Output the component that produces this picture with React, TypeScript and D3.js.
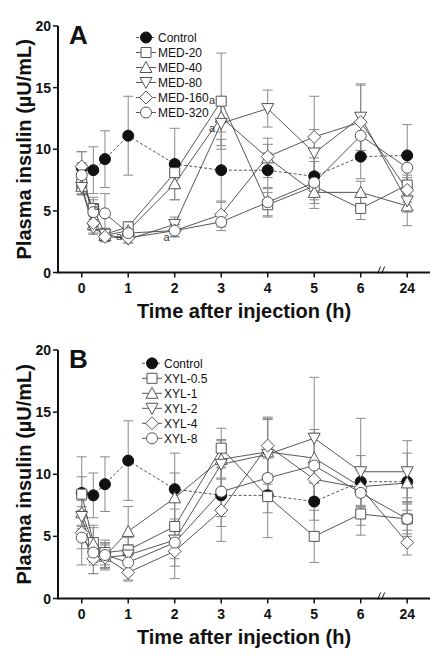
import React from "react";
import * as d3 from "d3";

const times = [0, 0.25, 0.5, 1, 2, 3, 4, 5, 6, 24];
const tickTimes = [0, 1, 2, 3, 4, 5, 6, 24];
const yTicks = [0, 5, 10, 15, 20];

// Panel A
const namesA = ["Control", "MED-20", "MED-40", "MED-80", "MED-160", "MED-320"];
const controlA = [8.5, 8.3, 9.2, 11.1, 8.8, 8.3, 8.3, 7.8, 9.4, 9.5];
const controlAErr = [1.3, 1.9, 2.3, 3.2, 2.9, 2.5, 1.4, 1.5, 1.8, 2.5];
const med20 = [7.2, 5.2, 3.1, 3.7, 8.1, 13.9, 5.5, 7.0, 5.2, 7.1];
const med20Err = [0.8, 0.9, 0.5, 0.4, 1.0, 3.9, 1.0, 1.1, 0.9, 0.8];
const med40 = [7.0, 3.9, 3.0, 3.4, 7.2, 12.6, 9.3, 6.5, 6.5, 5.4];
const med40Err = [0.7, 0.7, 0.5, 0.5, 1.3, 1.2, 1.6, 1.3, 0.9, 1.6];
const med80 = [6.9, 3.6, 3.1, 2.7, 3.9, 12.1, 13.3, 9.7, 12.6, 5.8];
const med80Err = [0.6, 0.5, 0.4, 0.3, 0.6, 1.8, 1.5, 1.9, 2.7, 0.9];
const med160 = [8.6, 4.0, 2.9, 2.8, 3.4, 4.7, 9.4, 11.0, 12.2, 6.7];
const med160Err = [1.2, 0.6, 0.4, 0.4, 0.5, 1.0, 1.0, 3.3, 3.0, 1.0];
const med320 = [7.9, 4.9, 4.8, 3.2, 3.4, 4.1, 5.7, 7.3, 11.1, 8.5];
const med320Err = [1.0, 1.0, 1.6, 0.5, 0.5, 0.7, 1.1, 1.7, 1.2, 1.1];

// Panel B
const namesB = ["Control", "XYL-0.5", "XYL-1", "XYL-2", "XYL-4", "XYL-8"];
const controlB = [8.5, 8.3, 9.2, 11.1, 8.8, 8.3, 8.3, 7.8, 9.4, 9.4];
const controlBErr = [2.9, 1.8, 2.2, 3.2, 2.9, 2.5, 1.4, 1.5, 2.1, 2.3];
const xyl05 = [8.4, 4.5, 3.7, 3.9, 5.8, 12.1, 8.2, 5.0, 6.8, 6.4];
const xyl05Err = [1.4, 1.2, 1.0, 1.0, 1.4, 1.6, 3.3, 2.1, 1.7, 1.2];
const xyl1 = [6.9, 4.4, 3.4, 5.4, 8.1, 11.2, 11.8, 11.3, 9.0, 9.3];
const xyl1Err = [1.0, 1.5, 1.0, 2.0, 2.0, 1.5, 2.6, 2.0, 1.5, 1.2];
const xyl2 = [6.6, 3.4, 3.3, 3.5, 4.7, 10.8, 11.6, 12.9, 10.2, 10.2];
const xyl2Err = [0.8, 1.4, 0.8, 0.8, 1.5, 2.0, 2.9, 4.9, 4.3, 2.5];
const xyl4 = [5.3, 3.2, 3.3, 2.1, 3.8, 7.1, 12.3, 9.6, 8.9, 4.5];
const xyl4Err = [1.3, 1.2, 1.0, 0.7, 2.2, 2.5, 2.3, 1.5, 1.5, 1.0];
const xyl8 = [4.9, 3.7, 3.5, 2.9, 4.5, 8.6, 9.7, 10.7, 8.5, 6.4];
const xyl8Err = [2.2, 1.0, 1.0, 1.4, 1.9, 2.0, 1.6, 2.9, 1.8, 1.4];

const shapes = ["filled", "square", "up", "down", "diamond", "circle"];

// significance marks: series index, time index, label offset
const annotA = [
  { s: 1, i: 5, dx: -6, dy: 3 },
  { s: 2, i: 5, dx: -6, dy: 15 },
  { s: 5, i: 2, dx: -5, dy: -3 },
  { s: 1, i: 3, dx: -6, dy: 13 },
  { s: 5, i: 4, dx: -5, dy: 10 },
];

const FONT = "'Liberation Sans', Arial, Helvetica, sans-serif";

const pos = (t: number) => (t === 24 ? 7 : t);

function markerPath(shape: string): string {
  switch (shape) {
    case "square":
      return "M-5,-5H5V5H-5Z";
    case "up":
      return "M0,-6L6,5H-6Z";
    case "down":
      return "M0,6L6,-5H-6Z";
    case "diamond":
      return "M0,-6.5L6.5,0L0,6.5L-6.5,0Z";
    default:
      return d3.symbol(d3.symbolCircle, 95)() as string;
  }
}

function Marker({ shape, x, y }: { shape: string; x: number; y: number }) {
  const filled = shape === "filled";
  return (
    <path
      d={markerPath(shape)}
      transform={`translate(${x},${y})`}
      fill={filled ? "#111" : "#fff"}
      stroke={filled ? "#111" : "#555"}
      strokeWidth={1}
    />
  );
}

function Panel({
  label,
  top,
  bottom,
  names,
  means,
  errs,
  annots,
  legendX,
  legendY,
}: {
  label: string;
  top: number;
  bottom: number;
  names: string[];
  means: number[][];
  errs: number[][];
  annots: { s: number; i: number; dx: number; dy: number }[];
  legendX: number;
  legendY: number;
}) {
  const x = d3.scaleLinear().domain([-0.51, 7.49]).range([58, 430]);
  const y = d3.scaleLinear().domain([0, 20]).range([bottom, top]);
  const line = d3
    .line<number>()
    .x((_, i) => x(pos(times[i])))
    .y((d) => y(d));
  const midY = (top + bottom) / 2;
  const breakX = x(6.45);

  return (
    <g fontFamily={FONT}>
      {/* error bars */}
      {means.map((m, s) => (
        <g key={"e" + s} stroke="#8a8a8a" strokeWidth={1}>
          {m.map((v, i) => {
            const cx = x(pos(times[i]));
            const lo = y(v - errs[s][i]);
            const hi = y(v + errs[s][i]);
            return (
              <g key={i}>
                <line x1={cx} x2={cx} y1={lo} y2={hi} />
                <line x1={cx - 5} x2={cx + 5} y1={lo} y2={lo} />
                <line x1={cx - 5} x2={cx + 5} y1={hi} y2={hi} />
              </g>
            );
          })}
        </g>
      ))}
      {/* lines */}
      {means.map((m, s) => (
        <path
          key={"l" + s}
          d={line(m) as string}
          fill="none"
          stroke="#444"
          strokeWidth={0.9}
          strokeDasharray={s === 0 ? "3,2" : undefined}
        />
      ))}
      {/* markers */}
      {means.map((m, s) => (
        <g key={"m" + s}>
          {m.map((v, i) => (
            <Marker key={i} shape={shapes[s]} x={x(pos(times[i]))} y={y(v)} />
          ))}
        </g>
      ))}
      {annots.map((a, k) => (
        <text
          key={"a" + k}
          x={x(pos(times[a.i])) + a.dx}
          y={y(means[a.s][a.i]) + a.dy}
          fontSize={11}
          textAnchor="end"
          fill="#333"
        >
          a
        </text>
      ))}
      {/* axes */}
      <line x1={58} x2={58} y1={top} y2={bottom} stroke="#111" strokeWidth={2} />
      <line x1={57} x2={430} y1={bottom} y2={bottom} stroke="#111" strokeWidth={2} />
      {yTicks.map((t) => (
        <g key={"yt" + t}>
          <line x1={53} x2={58} y1={y(t)} y2={y(t)} stroke="#111" strokeWidth={1.5} />
          <text
            x={51}
            y={y(t) + 5}
            textAnchor="end"
            fontSize={14}
            fontWeight="bold"
            fill="#111"
          >
            {t}
          </text>
        </g>
      ))}
      {tickTimes.map((t) => (
        <g key={"xt" + t}>
          <line
            x1={x(pos(t))}
            x2={x(pos(t))}
            y1={bottom}
            y2={bottom + 5}
            stroke="#111"
            strokeWidth={1.5}
          />
          <text
            x={x(pos(t))}
            y={bottom + 20}
            textAnchor="middle"
            fontSize={14}
            fontWeight="bold"
            fill="#111"
          >
            {t}
          </text>
        </g>
      ))}
      <g stroke="#111" strokeWidth={1}>
        <line x1={breakX - 4} x2={breakX - 1} y1={bottom + 1} y2={bottom - 6} />
        <line x1={breakX} x2={breakX + 3} y1={bottom + 1} y2={bottom - 6} />
      </g>
      <text
        x={244}
        y={bottom + 45}
        textAnchor="middle"
        fontSize={20}
        fontWeight="bold"
        fill="#111"
      >
        Time after injection (h)
      </text>
      <text
        transform={`translate(31,${midY}) rotate(-90)`}
        textAnchor="middle"
        fontSize={20}
        fontWeight="bold"
        fill="#111"
      >
        Plasma insulin (µU/mL)
      </text>
      <text x={69} y={top + 18} fontSize={26} fontWeight="bold" fill="#111">
        {label}
      </text>
      {/* legend */}
      {names.map((n, s) => {
        const ly = legendY + s * 15;
        return (
          <g key={"lg" + s}>
            <line
              x1={legendX - 10}
              x2={legendX + 10}
              y1={ly}
              y2={ly}
              stroke="#444"
              strokeWidth={0.9}
              strokeDasharray={s === 0 ? "3,2" : undefined}
            />
            <Marker shape={shapes[s]} x={legendX} y={ly} />
            <text x={legendX + 12} y={ly + 4.5} fontSize={12} fill="#111">
              {n}
            </text>
          </g>
        );
      })}
    </g>
  );
}

export default function App() {
  return (
    <svg
      width={444}
      height={656}
      style={{ position: "absolute", left: 0, top: 0, background: "#fff" }}
    >
      <rect width={444} height={656} fill="#fff" />
      <Panel
        label="A"
        top={26}
        bottom={272.5}
        names={namesA}
        means={[controlA, med20, med40, med80, med160, med320]}
        errs={[controlAErr, med20Err, med40Err, med80Err, med160Err, med320Err]}
        annots={annotA}
        legendX={146}
        legendY={37.5}
      />
      <Panel
        label="B"
        top={350}
        bottom={598.5}
        names={namesB}
        means={[controlB, xyl05, xyl1, xyl2, xyl4, xyl8]}
        errs={[controlBErr, xyl05Err, xyl1Err, xyl2Err, xyl4Err, xyl8Err]}
        annots={[]}
        legendX={152}
        legendY={363.3}
      />
    </svg>
  );
}
